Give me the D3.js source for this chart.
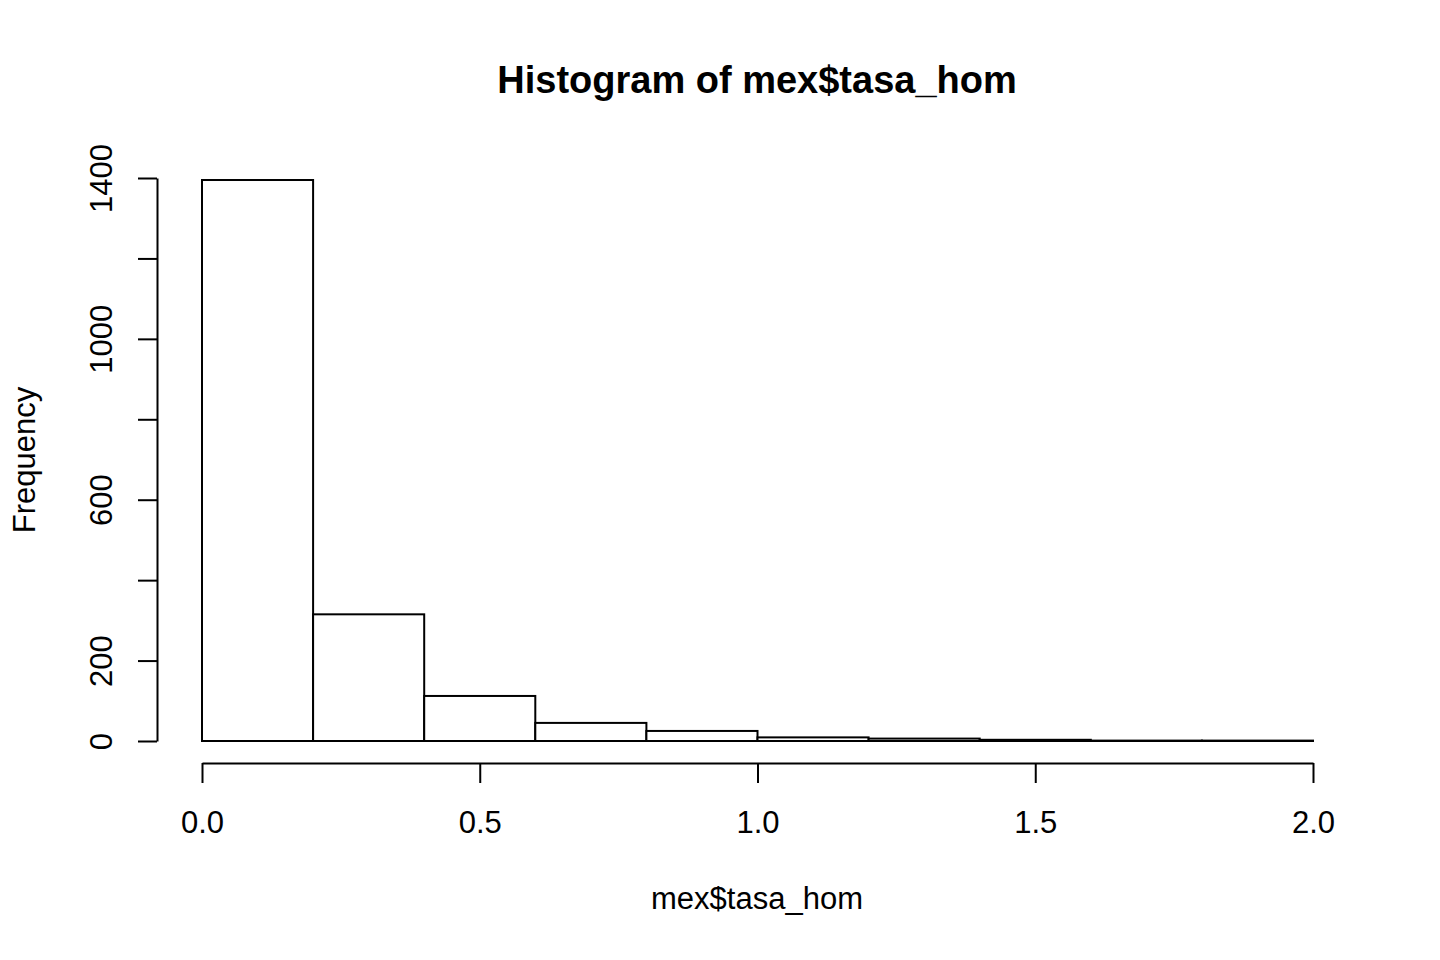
<!DOCTYPE html>
<html>
<head>
<meta charset="utf-8">
<script src="https://cdn.jsdelivr.net/npm/d3@7"></script>
<style>
  body { margin: 0; background: #fff; }
  svg text { font-family: "Liberation Sans", Arial, sans-serif; fill: #000; }
</style>
</head>
<body>
<div id="chart"></div>
<script>
// histogram data
const binEdges = [0.0, 0.2, 0.4, 0.6, 0.8, 1.0, 1.2, 1.4, 1.6, 1.8, 2.0];
const counts = [1395, 315, 112, 45, 25, 9, 6, 3, 1, 1];
const xTicks = [0.0, 0.5, 1.0, 1.5, 2.0];
const yTicks = [0, 200, 400, 600, 800, 1000, 1200, 1400];
const yLabels = [0, 200, 600, 1000, 1400]; // R drops the overlapping ones

const title = "Histogram of mex$tasa_hom";
const xTitle = "mex$tasa_hom";
const yTitle = "Frequency";

const width = 1440, height = 960;

let svg = d3.select("#chart")
    .append("svg")
        .attr("width", width)
        .attr("height", height);

let x = d3.scaleLinear()
    .domain([0, 2])
    .range([202, 1313]);

let y = d3.scaleLinear()
    .domain([0, 1400])
    .range([741, 178]);

// bars
let bins = counts.map(function(c, i) { return { x0: binEdges[i], x1: binEdges[i + 1], n: c }; });
svg.selectAll("rect")
    .data(bins)
    .enter()
    .append("rect")
        .attr("x", function(d) { return x(d.x0); })
        .attr("y", function(d) { return y(d.n); })
        .attr("width", function(d) { return x(d.x1) - x(d.x0); })
        .attr("height", function(d) { return y(0) - y(d.n); })
        .style("fill", "#fff")
        .style("stroke", "#000")
        .style("stroke-width", 2);

// x axis, detached below the plot like R does
let xAxis = svg.append("g")
    .attr("transform", "translate(0,763)")
    .call(d3.axisBottom(x)
        .tickValues(xTicks)
        .tickSize(20)
        .tickSizeOuter(0)
        .tickFormat(d3.format(".1f")));
xAxis.selectAll("text")
    .attr("y", 70)
    .attr("dy", 0)
    .style("font-size", "31px");

// y axis with rotated labels
let yAxis = svg.append("g")
    .attr("transform", "translate(157,0)")
    .call(d3.axisLeft(y)
        .tickValues(yTicks)
        .tickSize(19)
        .tickSizeOuter(0)
        .tickFormat(function(d) { return yLabels.includes(d) ? d : ""; }));
yAxis.selectAll("text")
    .attr("transform", "rotate(-90)")
    .attr("x", 0)
    .attr("y", -45)
    .attr("dy", 0)
    .attr("text-anchor", "middle")
    .style("font-size", "31px");

svg.selectAll(".domain, .tick line")
    .style("stroke", "#000")
    .style("stroke-width", 2);

// titles
svg.append("text")
    .attr("x", 757)
    .attr("y", 93)
    .attr("text-anchor", "middle")
    .style("font-size", "38px")
    .style("font-weight", "bold")
    .text(title);

svg.append("text")
    .attr("x", 757)
    .attr("y", 909)
    .attr("text-anchor", "middle")
    .style("font-size", "31px")
    .text(xTitle);

svg.append("text")
    .attr("transform", "translate(35,460) rotate(-90)")
    .attr("text-anchor", "middle")
    .style("font-size", "31px")
    .text(yTitle);
</script>
</body>
</html>
